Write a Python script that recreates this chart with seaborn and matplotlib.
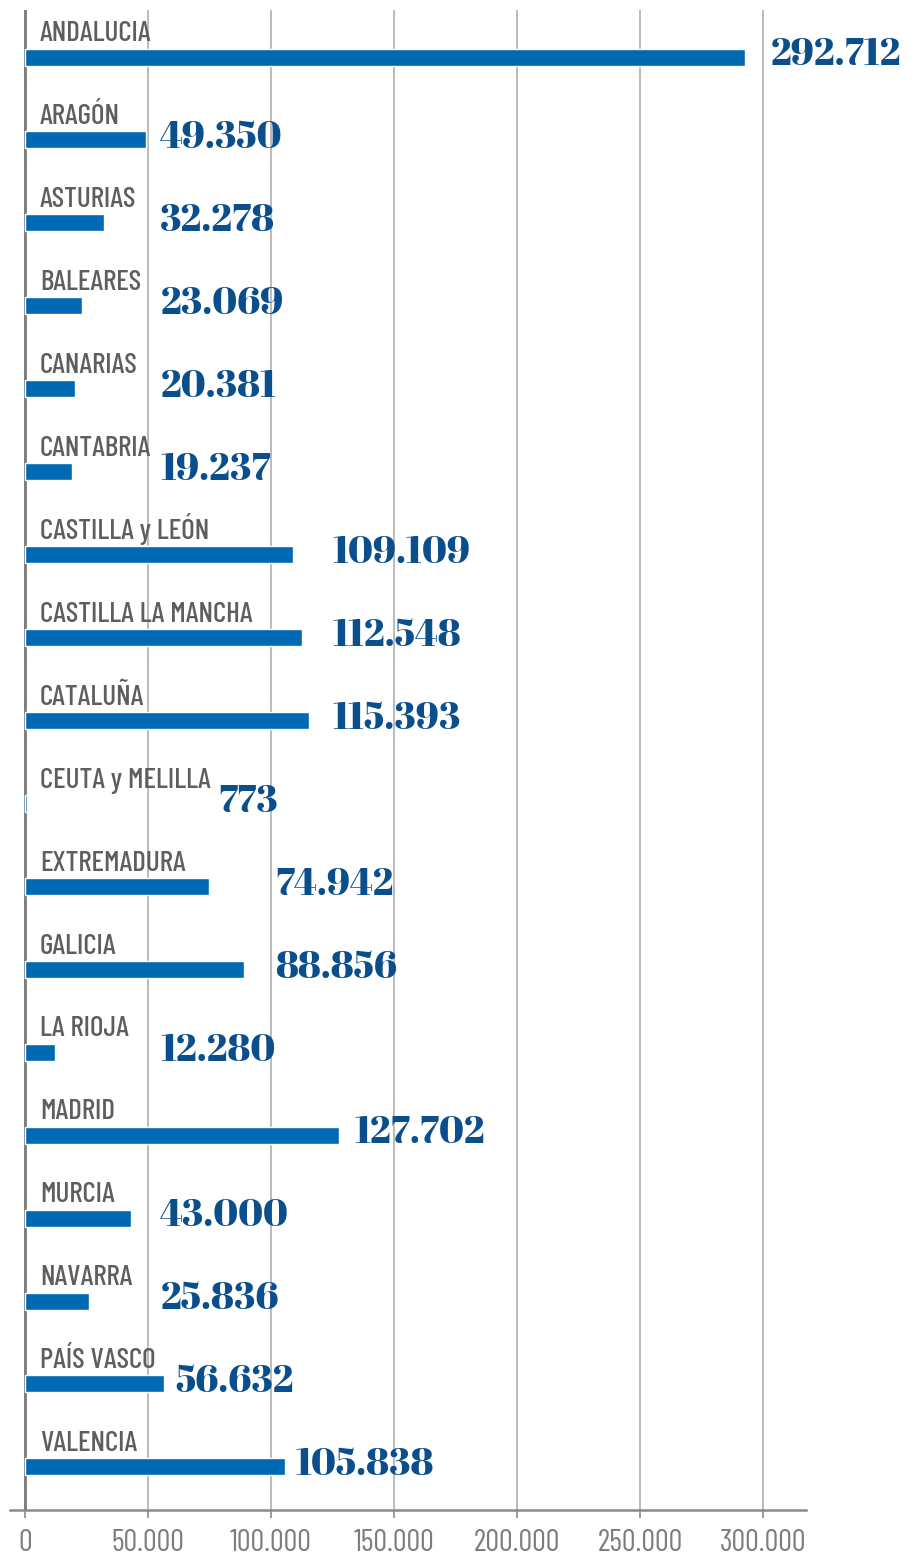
import matplotlib
matplotlib.use("Agg")
import matplotlib.pyplot as plt
import seaborn as sns
import pandas as pd

sns.set_theme(style="white")
sans = ["Barlow Condensed", "Roboto Condensed", "DejaVu Sans"]
serif = ["Abril Fatface", "Liberation Serif", "DejaVu Serif"]
plt.rcParams['font.family'] = sans

regions = ["ANDALUCIA", "ARAGÓN", "ASTURIAS", "BALEARES", "CANARIAS", "CANTABRIA",
           "CASTILLA y LEÓN", "CASTILLA LA MANCHA", "CATALUÑA", "CEUTA y MELILLA",
           "EXTREMADURA", "GALICIA", "LA RIOJA", "MADRID", "MURCIA", "NAVARRA",
           "PAÍS VASCO", "VALENCIA"]
values = [292712, 49350, 32278, 23069, 20381, 19237, 109109, 112548, 115393, 773,
          74942, 88856, 12280, 127702, 43000, 25836, 56632, 105838]
ticks = [0, 50000, 100000, 150000, 200000, 250000, 300000]
tick_labels = ["0", "50.000", "100.000", "150.000", "200.000", "250.000", "300.000"]

# where each number label starts (hand placed in the original)
label_x = [303000, 55000, 55000, 55000, 55000, 55000, 125000, 125000, 125000, 78500,
           101600, 101600, 55000, 134000, 55000, 55000, 61000, 110000]

df = pd.DataFrame({"region": regions, "value": values})

bar_color = "#0069b4"
num_color = "#0b4e8c"
gray_txt = "#5e5e5e"

fig = plt.figure(figsize=(9.14, 15.61), dpi=100)
ax = fig.add_axes([10 / 914, 1 - 1510 / 1561, 796 / 914, 1500 / 1561])

sns.barplot(data=df, x="value", y="region", orient="h", color=bar_color,
            width=0.205, saturation=1, ax=ax, zorder=5)

ax.set_xlim(-6098, 317480)
ax.set_ylim(17.52, -0.567)
ax.set_xticks(ticks)
ax.set_xticklabels(tick_labels, fontsize=22, color="#7d7d7d")
ax.tick_params(axis="x", length=6, width=1.2, color="#8a8a8a", pad=8, bottom=True)
ax.tick_params(axis="y", left=False, labelleft=False)
ax.set_xlabel("")
ax.set_ylabel("")
ax.grid(axis="x", color="#a8a8a8", lw=1.1, zorder=0)
ax.grid(axis="y", visible=False)

for s in ["top", "right", "left"]:
    ax.spines[s].set_visible(False)
ax.spines["bottom"].set_color("#8a8a8a")
ax.spines["bottom"].set_linewidth(1.8)
ax.axvline(0, color="#7a7a7a", lw=2.0, zorder=4)

for i, (name, v) in enumerate(zip(regions, values)):
    ax.text(6098, i - 0.19, name, fontsize=21, fontweight="medium", color=gray_txt,
            va="baseline", ha="left", zorder=6)
    ax.text(label_x[i], i + 0.10, f"{v:,}".replace(",", "."), fontsize=27,
            family=serif, color=num_color, va="baseline", ha="left", zorder=6)

fig.savefig("out.png", dpi=100)
